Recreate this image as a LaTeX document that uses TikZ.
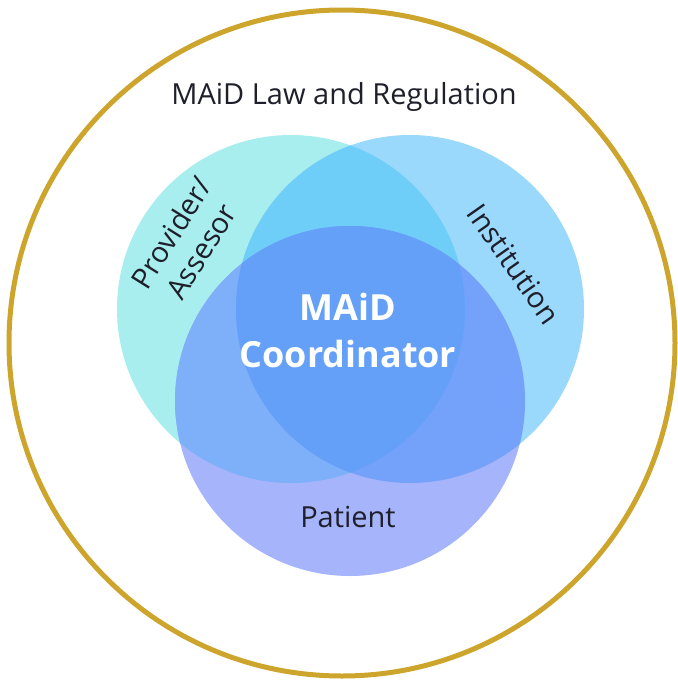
\documentclass[tikz,border=0pt]{standalone}
\usepackage{fontspec}
\setmainfont{Open Sans}
\definecolor{goldring}{HTML}{CDA52C}
\definecolor{inkcol}{HTML}{1E1F2A}
\definecolor{provcol}{HTML}{A8EEEF}
\definecolor{instcol}{HTML}{9AD8FC}
\definecolor{patcol}{HTML}{A6B4FC}
\definecolor{provinstcol}{HTML}{6FCEF7}
\definecolor{provpatcol}{HTML}{7DB0F8}
\definecolor{instpatcol}{HTML}{74A2FB}
\definecolor{coordcol}{HTML}{64A0F8}
\begin{document}
\begin{tikzpicture}[
  x=0.5pt, y=-0.5pt,
  ring/.style={draw=goldring, line width=2.5pt},
  lbl/.style={text=inkcol, font=\fontsize{14.5}{17.5}\selectfont, align=center},
  centrelbl/.style={text=white, font=\bfseries\fontsize{18}{23.5}\selectfont, align=center}
]
\useasboundingbox (0,0) rectangle (678,686);

% circle centres
\coordinate (prov) at (291,309);
\coordinate (inst) at (410,309);
\coordinate (pat) at (350,401);

% outer ring
\draw[ring] (342,343) circle[radius=333];

% single circles
\fill[provcol] (prov) circle[radius=174];
\fill[instcol] (inst) circle[radius=174];
\fill[patcol] (pat) circle[radius=175];

% pairwise overlaps
\begin{scope}
  \clip (prov) circle[radius=174];
  \fill[provinstcol] (inst) circle[radius=174];
  \fill[provpatcol] (pat) circle[radius=175];
\end{scope}
\begin{scope}
  \clip (inst) circle[radius=174];
  \fill[instpatcol] (pat) circle[radius=175];
\end{scope}

% centre overlap
\begin{scope}
  \clip (prov) circle[radius=174];
  \clip (inst) circle[radius=174];
  \fill[coordcol] (pat) circle[radius=175];
\end{scope}

% labels
\node[lbl] (law) at (344,97) {MAiD Law and Regulation};
\node[lbl, rotate=58] (provider) at (186,242) {Provider/\\Assesor};
\node[lbl, rotate=-55] (institution) at (514,264) {Institution};
\node[lbl] (patient) at (348,517) {Patient};
\node[centrelbl] (coordinator) at (348,330) {MAiD\\Coordinator};

\end{tikzpicture}
\end{document}
